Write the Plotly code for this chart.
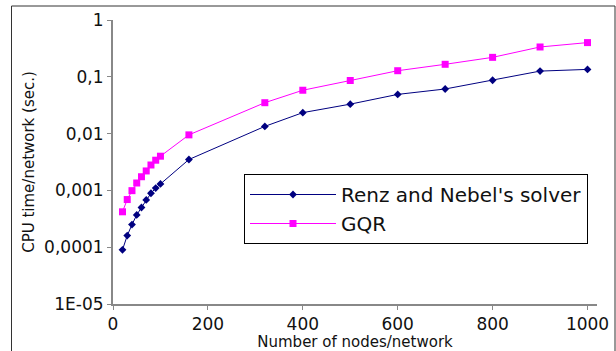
import plotly.graph_objects as go

nodes = [20, 30, 40, 50, 60, 70, 80, 90, 100, 160, 320, 400, 500, 600, 700, 800, 900, 1000]
renz = [0.00009, 0.00016, 0.00025, 0.00037, 0.0005, 0.00068, 0.00089, 0.0011, 0.0013,
        0.0035, 0.0134, 0.0234, 0.033, 0.049, 0.061, 0.087, 0.126, 0.135]
gqr = [0.00042, 0.00069, 0.00099, 0.00135, 0.00174, 0.0022, 0.0028, 0.0034, 0.004,
       0.0095, 0.035, 0.058, 0.086, 0.128, 0.166, 0.22, 0.335, 0.40]
y_tickvals = [1e-5, 1e-4, 1e-3, 1e-2, 1e-1, 1]
y_ticktext = ["1E-05", "0,0001", "0,001", "0,01", "0,1", "1"]
x_tickvals = [0, 200, 400, 600, 800, 1000]

FONT = "DejaVu Sans"
fig = go.Figure()
fig.add_trace(go.Scatter(
    x=nodes, y=renz, mode="lines+markers", name="Renz and Nebel's solver",
    line=dict(color="#000080", width=1),
    marker=dict(symbol="diamond", size=6, color="#000080"),
))
fig.add_trace(go.Scatter(
    x=nodes, y=gqr, mode="lines+markers", name="GQR",
    line=dict(color="#FF00FF", width=1),
    marker=dict(symbol="square", size=7, color="#FF00FF"),
))

L, R, T, B = 113, 19, 20, 47
W, H = 616, 351
pw, ph = W - L - R, H - T - B

def px(x):
    return (x - L) / pw

def py(y):
    return 1 - (y - T) / ph

fig.update_layout(
    width=W, height=H,
    margin=dict(l=L, r=R, t=T, b=B, pad=0, autoexpand=False),
    paper_bgcolor="white", plot_bgcolor="white",
    font=dict(family=FONT, color="#111111"),
    showlegend=True,
    legend=dict(
        x=px(244), y=py(174), xanchor="left", yanchor="top",
        bgcolor="white", bordercolor="black", borderwidth=1,
        font=dict(size=20, family=FONT, color="#111111"),
        tracegroupgap=0, itemwidth=86,
    ),
    xaxis=dict(
        range=[0, 1020], tickvals=x_tickvals, showgrid=False, zeroline=False,
        showline=True, linecolor="#888888", linewidth=2, automargin=False,
        ticks="outside", ticklen=4, tickcolor="#888888", tickwidth=1,
        tickfont=dict(size=17, family=FONT, color="#111111"),
        title=dict(text="Number of nodes/network", font=dict(size=15, family=FONT), standoff=2),
    ),
    yaxis=dict(
        type="log", range=[-5, 0], tickvals=y_tickvals, ticktext=y_ticktext,
        showgrid=False, zeroline=False, automargin=False,
        showline=True, linecolor="#888888", linewidth=2,
        ticks="outside", ticklen=4, tickcolor="#888888", tickwidth=1,
        tickfont=dict(size=17, family=FONT, color="#111111"),
        title=dict(text="CPU time/network (sec.)", font=dict(size=15, family=FONT), standoff=6),
    ),
    shapes=[dict(
        type="rect", xref="paper", yref="paper",
        x0=px(11.5), x1=px(615), y0=py(380), y1=py(6),
        line=dict(color="#333333", width=1), fillcolor="rgba(0,0,0,0)", layer="below",
    )],
)

fig.write_html("out.html")
